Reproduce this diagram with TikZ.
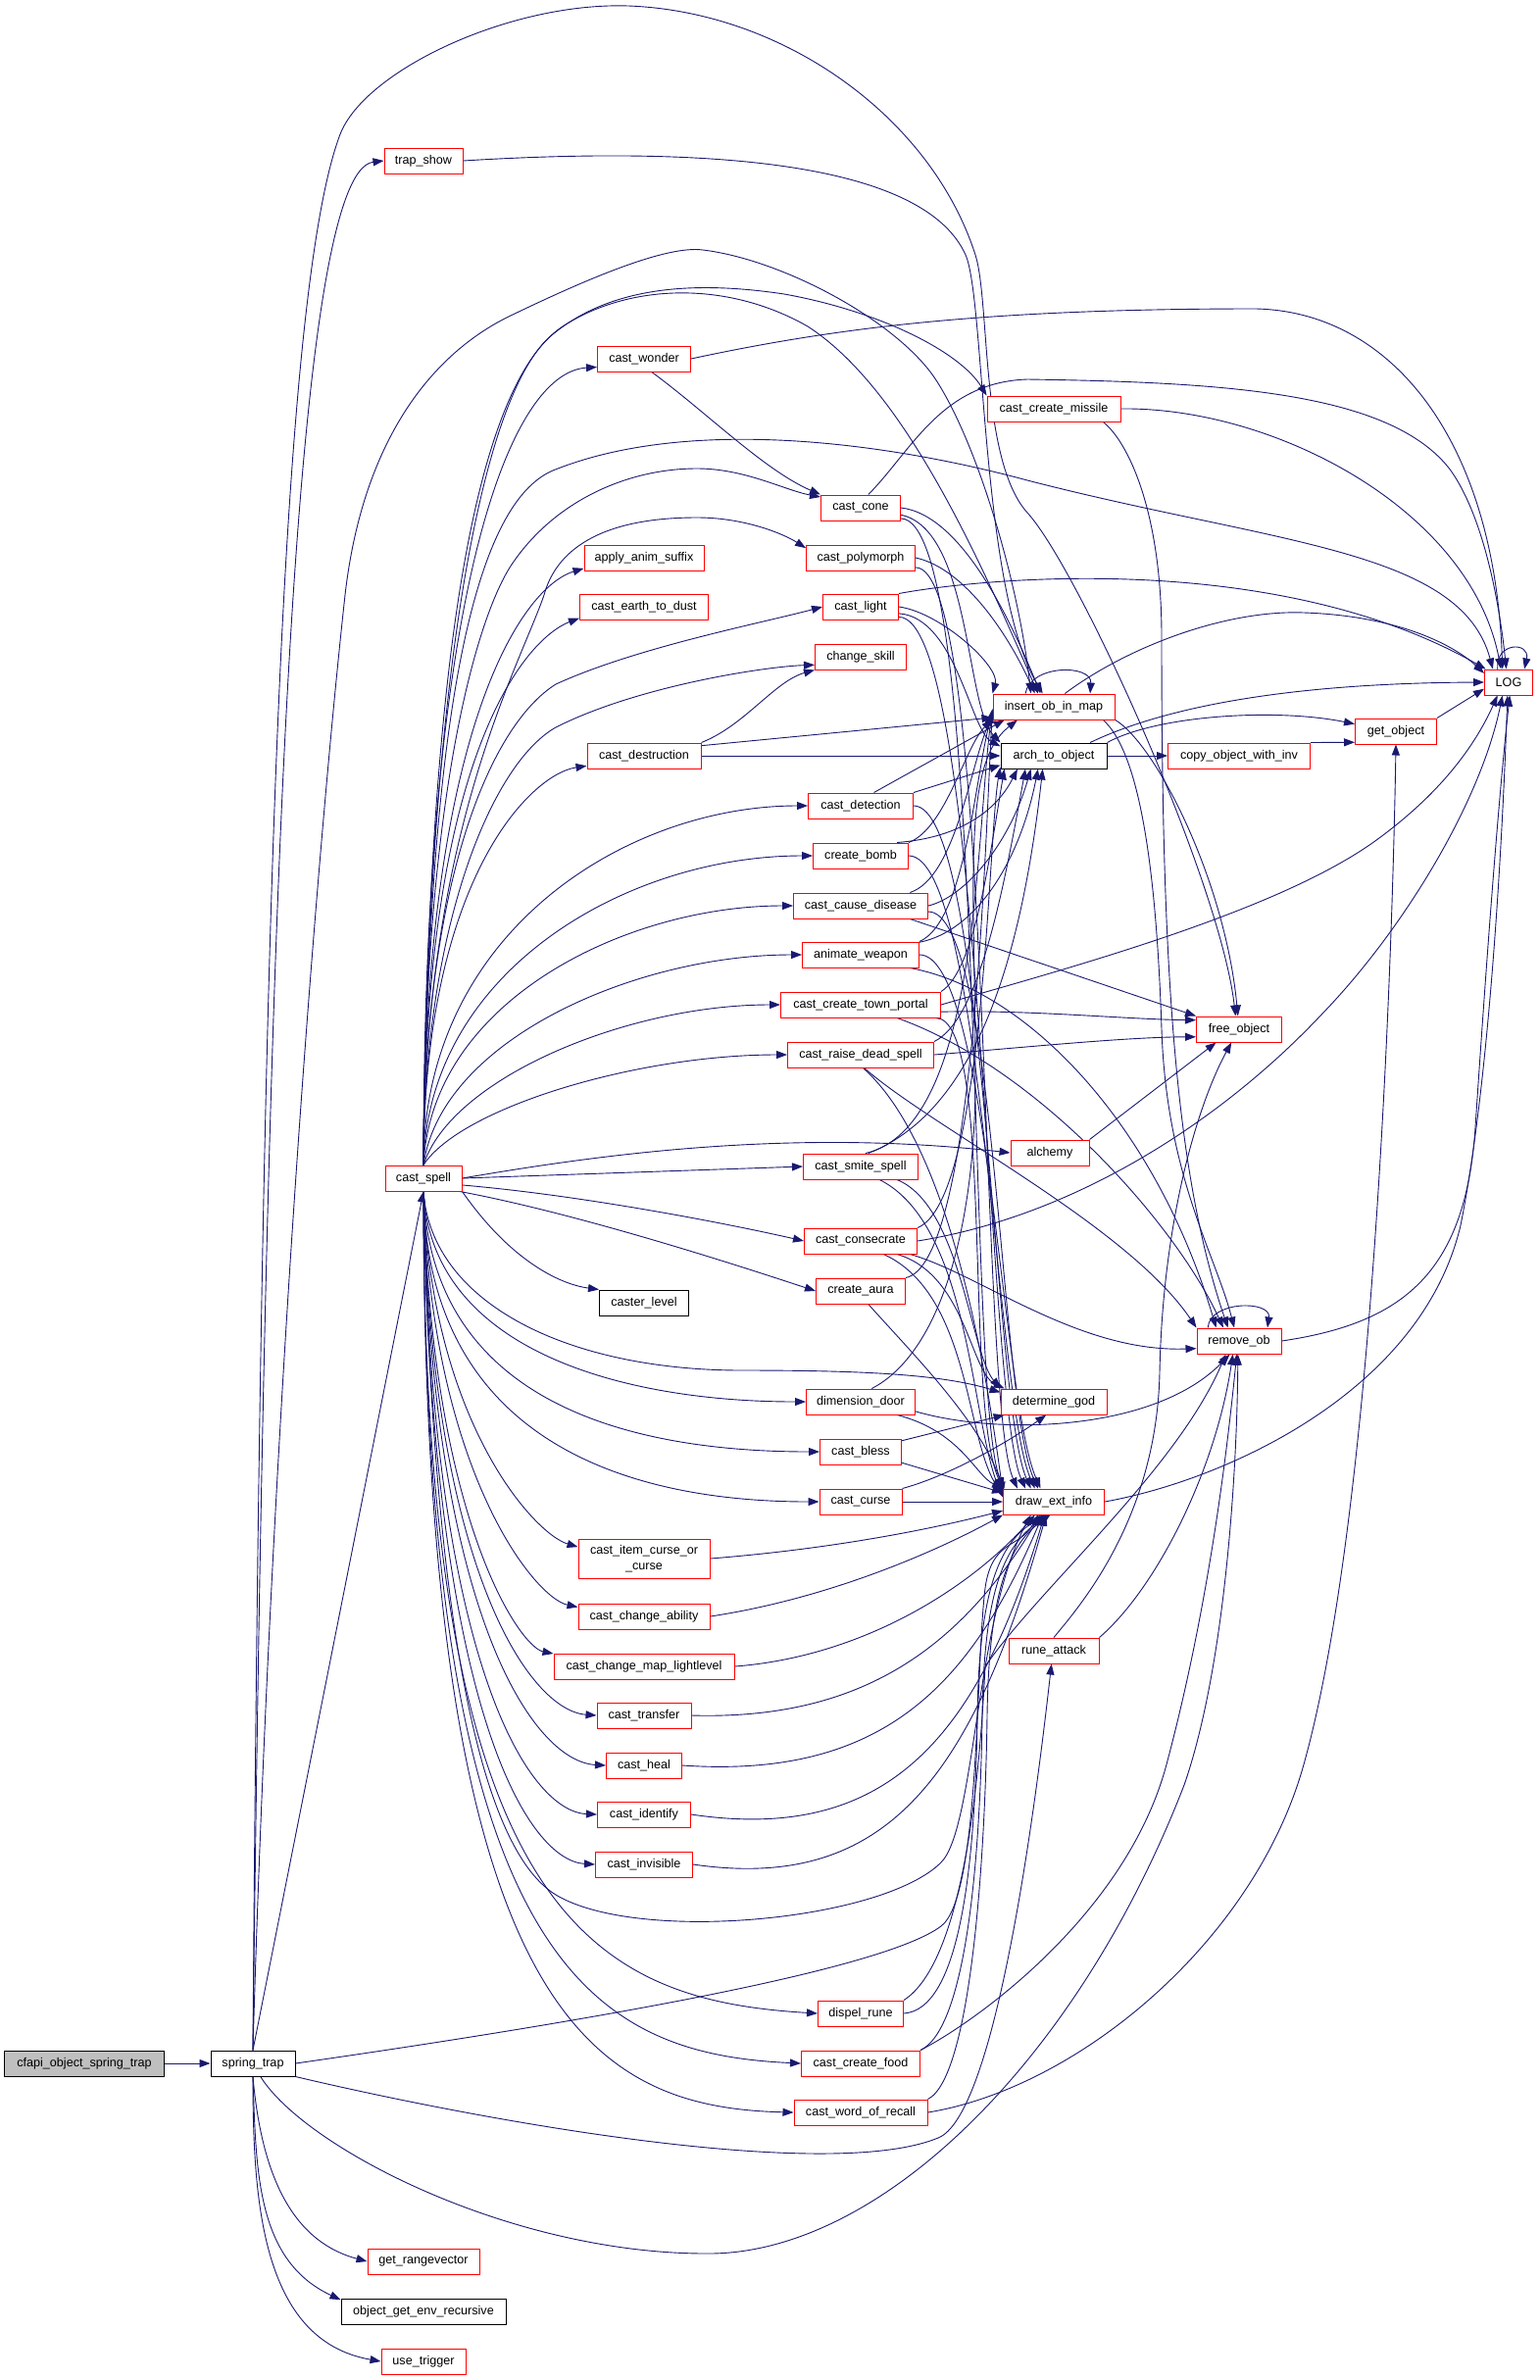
\documentclass[tikz,border=0pt]{standalone}
\usepackage{fontspec}
\newfontfamily\fnfont{Liberation Sans}
\usetikzlibrary{arrows.meta,backgrounds}
\definecolor{edgeblue}{HTML}{191970}
\definecolor{boxred}{HTML}{FF0000}
\definecolor{rootgrey}{HTML}{BFBFBF}
\tikzset{
    callgraph/.style={
        x=1pt, y=1pt,
        % Stile per le funzioni (bordo rosso)
        fn/.style={draw=boxred, fill=white, line width=1pt,
                   minimum width=##1, minimum height=26pt,
                   inner sep=0pt, align=center,
                   font=\fnfont\fontsize{12.6}{15.5}\selectfont},
        % Stile per le funzioni con bordo nero
        fnblack/.style={fn=##1, draw=black},
        % Stile per la funzione di partenza (grigia)
        fnroot/.style={fn=##1, draw=black, fill=rootgrey},
        % Stile per le chiamate
        call/.style={draw=edgeblue, line width=0.9pt,
                     -{Triangle[length=11pt,width=8pt]}},
        % Chiamata che scende verso draw_ext_info
        downto/.style={to path={.. controls +(##1,0) and +(-40,90) .. (\tikztotarget)}}
    }
}

\begin{document}
\begin{tikzpicture}[callgraph]
    \useasboundingbox (0,0) rectangle (1571,-2428);
    % colonna 1 e 2
    \node[fnroot=163pt] (cfapi) at (86,-2105) {cfapi\_object\_spring\_trap};
    \node[fnblack=86pt] (springtrap) at (258,-2105) {spring\_trap};
    \node[fn=114pt] (getrangevector) at (432,-2307) {get\_rangevector};
    \node[fnblack=168pt] (objectgetenv) at (432,-2358) {object\_get\_env\_recursive};
    \node[fn=86pt] (usetrigger) at (432,-2409) {use\_trigger};
    \node[fn=80pt] (trapshow) at (432,-164) {trap\_show};
    \node[fn=78pt] (castspell) at (432,-1202) {cast\_spell};
    % colonna 3
    \node[fn=95pt] (castwonder) at (657,-366) {cast\_wonder};
    \node[fn=122pt] (applyanim) at (657,-569) {apply\_anim\_suffix};
    \node[fn=131pt] (earthtodust) at (657,-619) {cast\_earth\_to\_dust};
    \node[fn=116pt] (destruction) at (657,-771) {cast\_destruction};
    \node[fnblack=91pt] (casterlevel) at (657,-1329) {caster\_level};
    \node[fn=134pt, minimum height=40pt] (itemcurse) at (657,-1590) {cast\_item\_curse\_or\\\_curse};
    \node[fn=134pt] (changeability) at (657,-1649) {cast\_change\_ability};
    \node[fn=184pt] (lightlevel) at (657,-1700) {cast\_change\_map\_lightlevel};
    \node[fn=96pt] (transfer) at (657,-1750) {cast\_transfer};
    \node[fn=77pt] (heal) at (657,-1801) {cast\_heal};
    \node[fn=95pt] (identify) at (657,-1851) {cast\_identify};
    \node[fn=99pt] (invisible) at (657,-1902) {cast\_invisible};
    % colonna 4
    \node[fn=81pt] (castcone) at (878,-518) {cast\_cone};
    \node[fn=111pt] (polymorph) at (878,-569) {cast\_polymorph};
    \node[fn=77pt] (castlight) at (878,-619) {cast\_light};
    \node[fn=93pt] (changeskill) at (878,-670) {change\_skill};
    \node[fn=107pt] (detection) at (878,-822) {cast\_detection};
    \node[fn=97pt] (createbomb) at (878,-873) {create\_bomb};
    \node[fn=137pt] (causedisease) at (878,-924) {cast\_cause\_disease};
    \node[fn=119pt] (animateweapon) at (878,-974) {animate\_weapon};
    \node[fn=163pt] (townportal) at (878,-1025) {cast\_create\_town\_portal};
    \node[fn=149pt] (raisedead) at (878,-1076) {cast\_raise\_dead\_spell};
    \node[fn=117pt] (smite) at (878,-1190) {cast\_smite\_spell};
    \node[fn=115pt] (consecrate) at (878,-1266) {cast\_consecrate};
    \node[fn=91pt] (createaura) at (878,-1317) {create\_aura};
    \node[fn=111pt] (dimensiondoor) at (878,-1430) {dimension\_door};
    \node[fn=83pt] (bless) at (878,-1481) {cast\_bless};
    \node[fn=84pt] (curse) at (878,-1532) {cast\_curse};
    \node[fn=87pt] (dispelrune) at (878,-2054) {dispel\_rune};
    \node[fn=121pt] (createfood) at (878,-2105) {cast\_create\_food};
    \node[fn=136pt] (wordofrecall) at (878,-2155) {cast\_word\_of\_recall};
    % colonna 5
    \node[fn=136pt] (createmissile) at (1075,-417) {cast\_create\_missile};
    \node[fn=124pt] (insertob) at (1075,-721) {insert\_ob\_in\_map};
    \node[fnblack=108pt] (archtoobject) at (1075,-771) {arch\_to\_object};
    \node[fn=80pt] (alchemy) at (1071,-1176) {alchemy};
    \node[fn=108pt] (determinegod) at (1075,-1430) {determine\_god};
    \node[fn=103pt] (drawextinfo) at (1075,-1532) {draw\_ext\_info};
    \node[fn=92pt] (runeattack) at (1075,-1684) {rune\_attack};
    % colonne 6, 7 e 8
    \node[fn=145pt] (copyobject) at (1264,-771) {copy\_object\_with\_inv};
    \node[fn=87pt] (freeobject) at (1264,-1050) {free\_object};
    \node[fn=86pt] (removeob) at (1264,-1368) {remove\_ob};
    \node[fn=83pt] (getobject) at (1424,-746) {get\_object};
    \node[fn=49pt] (logfn) at (1539,-696) {LOG};

    \begin{scope}[on background layer]
    % cfapi_object_spring_trap
    \draw[call] (cfapi) -- (springtrap);
    % spring_trap
    \draw[call] (springtrap.north) .. controls (272,-900) and (300,-175) .. (trapshow.west);
    \draw[call] (springtrap.north) .. controls (266,-1000) and (285,-300) .. (347,-137)
        .. controls (372,-72) and (520,-2) .. (641,-6)
        .. controls (800,-12) and (950,-120) .. (995,-260)
        .. controls (1010,-307) and (1000,-470) .. (1048,-523)
        .. controls (1100,-580) and (1245,-900) .. (freeobject.105);
    \draw[call] (springtrap.north) .. controls (275,-1500) and (320,-900) .. (352,-607)
        .. controls (370,-450) and (440,-360) .. (523,-321)
        .. controls (600,-284) and (680,-250) .. (717,-255)
        .. controls (800,-265) and (920,-330) .. (957,-391)
        .. controls (1000,-460) and (1040,-600) .. (insertob.150);
    \draw[call] (springtrap.north) -- (castspell.south);
    \draw[call] (springtrap.east) .. controls (600,-2062) and (900,-2010) .. (960,-1965)
        .. controls (1000,-1935) and (995,-1700) .. (1005,-1620)
        .. controls (1012,-1570) and (1040,-1580) .. (drawextinfo.-140);
    \draw[call] (springtrap.south east) .. controls (520,-2170) and (850,-2225) .. (957,-2181)
        .. controls (1010,-2160) and (1050,-1900) .. (runeattack.-100);
    \draw[call] (springtrap.-60) .. controls (310,-2190) and (520,-2300) .. (724,-2299)
        .. controls (900,-2298) and (1100,-2100) .. (1208,-1821)
        .. controls (1250,-1700) and (1262,-1500) .. (removeob.-95);
    \draw[call] (springtrap.south) to[out=-85,in=165] (getrangevector.west);
    \draw[call] (springtrap.south) to[out=-88,in=155] (objectgetenv.172);
    \draw[call] (springtrap.south) to[out=-90,in=170] (usetrigger.west);
    % trap_show
    \draw[call] (trapshow.east) .. controls (700,-150) and (940,-160) .. (985,-260)
        .. controls (1005,-305) and (1000,-600) .. (insertob.130);
    % cast_spell, verso l'alto
    \draw[call] (castspell.north) .. controls (432,-600) and (520,-380) .. (castwonder.190);
    \draw[call] (castspell.north) .. controls (432,-750) and (530,-600) .. (applyanim.190);
    \draw[call] (castspell.north) .. controls (432,-760) and (540,-650) .. (earthtodust.190);
    \draw[call] (castspell.north) .. controls (432,-900) and (540,-790) .. (destruction.190);
    \draw[call] (castspell.north) .. controls (432,-800) and (490,-620) .. (524,-573)
        .. controls (567,-511) and (640,-478) .. (711,-478)
        .. controls (760,-478) and (800,-500) .. (castcone.165);
    \draw[call] (castspell.north) .. controls (432,-850) and (530,-680) .. (555,-607)
        .. controls (565,-570) and (600,-528) .. (711,-528)
        .. controls (760,-528) and (800,-545) .. (polymorph.170);
    \draw[call] (castspell.north) .. controls (432,-900) and (500,-740) .. (567,-698)
        .. controls (650,-660) and (780,-635) .. (castlight.west);
    \draw[call] (castspell.north) .. controls (432,-950) and (500,-780) .. (567,-742)
        .. controls (650,-700) and (780,-680) .. (changeskill.190);
    \draw[call] (castspell.north) .. controls (432,-950) and (640,-822) .. (detection.west);
    \draw[call] (castspell.north) .. controls (436,-990) and (640,-873) .. (createbomb.west);
    \draw[call] (castspell.north) .. controls (440,-1020) and (640,-924) .. (causedisease.west);
    \draw[call] (castspell.north) .. controls (450,-1060) and (650,-974) .. (animateweapon.west);
    \draw[call] (castspell.north) .. controls (460,-1100) and (640,-1025) .. (townportal.west);
    \draw[call] (castspell.north) .. controls (470,-1130) and (650,-1076) .. (raisedead.west);
    \draw[call] (castspell.north) .. controls (436,-700) and (490,-400) .. (564,-341)
        .. controls (620,-295) and (700,-285) .. (800,-300)
        .. controls (900,-318) and (980,-360) .. (createmissile.north west);
    \draw[call] (castspell.north) .. controls (436,-700) and (480,-395) .. (574,-333)
        .. controls (640,-290) and (740,-285) .. (824,-333)
        .. controls (920,-395) and (995,-560) .. (insertob.140);
    \draw[call] (castspell.north) .. controls (436,-800) and (470,-520) .. (564,-480)
        .. controls (700,-425) and (900,-450) .. (1048,-490)
        .. controls (1300,-555) and (1490,-560) .. (logfn.140);
    % cast_spell, a destra
    \draw[call] (castspell.east) .. controls (600,-1180) and (800,-1150) .. (alchemy.west);
    \draw[call] (castspell.east) -- (smite.west);
    \draw[call] (castspell.-10) .. controls (600,-1220) and (750,-1250) .. (consecrate.west);
    \draw[call] (castspell.-20) .. controls (600,-1240) and (780,-1300) .. (createaura.west);
    \draw[call] (castspell.south east) .. controls (520,-1285) and (570,-1310) .. (casterlevel.north west);
    % cast_spell, verso il basso
    \draw[call] (castspell.south) .. controls (440,-1330) and (580,-1398) .. (757,-1398)
        .. controls (880,-1398) and (960,-1402) .. (determinegod.170);
    \draw[call] (castspell.south) .. controls (440,-1380) and (640,-1430) .. (dimensiondoor.west);
    \draw[call] (castspell.south) .. controls (440,-1430) and (640,-1481) .. (bless.west);
    \draw[call] (castspell.south) .. controls (436,-1470) and (640,-1532) .. (curse.west);
    \draw[call] (castspell.south) .. controls (440,-1450) and (545,-1565) .. (itemcurse.170);
    \draw[call] (castspell.south) .. controls (440,-1500) and (545,-1630) .. (changeability.172);
    \draw[call] (castspell.south) .. controls (440,-1550) and (530,-1680) .. (lightlevel.172);
    \draw[call] (castspell.south) .. controls (440,-1600) and (540,-1745) .. (transfer.west);
    \draw[call] (castspell.south) .. controls (440,-1650) and (545,-1797) .. (heal.west);
    \draw[call] (castspell.south) .. controls (440,-1700) and (540,-1848) .. (identify.west);
    \draw[call] (castspell.south) .. controls (440,-1750) and (540,-1898) .. (invisible.west);
    \draw[call] (castspell.south) .. controls (432,-1950) and (600,-2040) .. (dispelrune.west);
    \draw[call] (castspell.south) .. controls (432,-2000) and (600,-2095) .. (createfood.west);
    \draw[call] (castspell.south) .. controls (432,-2050) and (600,-2150) .. (wordofrecall.west);
    \draw[call] (castspell.south) .. controls (440,-1600) and (480,-1880) .. (567,-1933)
        .. controls (650,-1983) and (900,-1960) .. (960,-1900)
        .. controls (995,-1865) and (995,-1650) .. (drawextinfo.-150);
    % cast_wonder, cast_destruction
    \draw[call] (castwonder.-60) .. controls (720,-420) and (780,-480) .. (castcone.north west);
    \draw[call] (castwonder.east) .. controls (850,-335) and (1000,-315) .. (1281,-315)
        .. controls (1420,-318) and (1525,-450) .. (logfn.115);
    \draw[call] (destruction.north east) .. controls (760,-740) and (790,-695) .. (changeskill.south west);
    \draw[call] (destruction.10) -- (insertob.-170);
    \draw[call] (destruction.east) -- (archtoobject.west);
    % cast_cone, cast_polymorph, cast_light
    \draw[call] (castcone.60) .. controls (930,-460) and (960,-390) .. (1048,-387)
        .. controls (1250,-390) and (1420,-400) .. (1480,-480)
        .. controls (1515,-530) and (1530,-620) .. (logfn.100);
    \draw[call] (castcone.east) .. controls (980,-525) and (1030,-630) .. (insertob.135);
    \draw[call] (castcone.-10) .. controls (990,-540) and (985,-720) .. (archtoobject.north west);
    \draw[call] (castcone.-15) to[downto=90] (drawextinfo.165);
    \draw[call] (polymorph.east) .. controls (985,-580) and (1030,-650) .. (insertob.145);
    \draw[call] (polymorph.-10) to[downto=80] (drawextinfo.160);
    \draw[call] (castlight.north east) .. controls (1000,-590) and (1300,-560) .. (logfn.150);
    \draw[call] (castlight.east) .. controls (960,-625) and (1020,-680) .. (insertob.north west);
    \draw[call] (castlight.-10) .. controls (975,-630) and (990,-745) .. (archtoobject.170);
    \draw[call] (castlight.-15) to[downto=85] (drawextinfo.155);
    % cast_detection, create_bomb, cast_cause_disease, animate_weapon
    \draw[call] (detection.45) -- (insertob.-165);
    \draw[call] (detection.north east) -- (archtoobject.-170);
    \draw[call] (detection.east) to[downto=75] (drawextinfo.150);
    \draw[call] (createbomb.north east) .. controls (965,-845) and (985,-760) .. (insertob.-168);
    \draw[call] (createbomb.20) .. controls (975,-855) and (1015,-830) .. (archtoobject.-160);
    \draw[call] (createbomb.east) to[downto=75] (drawextinfo.145);
    \draw[call] (causedisease.15) .. controls (975,-895) and (990,-780) .. (insertob.-172);
    \draw[call] (causedisease.east) .. controls (985,-915) and (1030,-860) .. (archtoobject.-150);
    \draw[call] (causedisease.-15) -- (freeobject.north west);
    \draw[call] (causedisease.-5) to[downto=70] (drawextinfo.140);
    \draw[call] (animateweapon.north east) .. controls (985,-940) and (995,-790) .. (insertob.-175);
    \draw[call] (animateweapon.12) .. controls (995,-950) and (1040,-880) .. (archtoobject.-140);
    \draw[call] (animateweapon.-15) .. controls (1050,-1010) and (1180,-1150) .. (removeob.150);
    \draw[call] (animateweapon.east) to[downto=70] (drawextinfo.135);
    % cast_create_town_portal, cast_raise_dead_spell, alchemy
    \draw[call] (townportal.east) .. controls (1100,-985) and (1300,-930) .. (1400,-860)
        .. controls (1470,-810) and (1505,-760) .. (logfn.-130);
    \draw[call] (townportal.-5) .. controls (1050,-1030) and (1150,-1040) .. (freeobject.168);
    \draw[call] (townportal.north east) .. controls (995,-990) and (1010,-870) .. (archtoobject.-165);
    \draw[call] (townportal.-20) .. controls (1060,-1090) and (1200,-1250) .. (removeob.140);
    \draw[call] (townportal.-10) to[downto=60] (drawextinfo.north west);
    \draw[call] (raisedead.east) .. controls (1050,-1068) and (1150,-1058) .. (freeobject.-170);
    \draw[call] (raisedead.north east) .. controls (1000,-1040) and (1025,-900) .. (archtoobject.-155);
    \draw[call] (raisedead.-75) .. controls (950,-1150) and (1150,-1250) .. (removeob.north west);
    \draw[call] (raisedead.-80) .. controls (960,-1160) and (1000,-1350) .. (drawextinfo.170);
    \draw[call] (alchemy.north east) -- (freeobject.-150);
    % cast_smite_spell, cast_consecrate, create_aura, dimension_door
    \draw[call] (smite.70) .. controls (1000,-1150) and (995,-850) .. (insertob.-178);
    \draw[call] (smite.60) .. controls (1005,-1130) and (1045,-950) .. (archtoobject.-130);
    \draw[call] (smite.-20) .. controls (980,-1230) and (990,-1380) .. (determinegod.north west);
    \draw[call] (smite.-35) .. controls (990,-1250) and (990,-1450) .. (drawextinfo.175);
    \draw[call] (consecrate.east) .. controls (1100,-1240) and (1250,-1140) .. (1350,-1033)
        .. controls (1430,-950) and (1510,-820) .. (logfn.-115);
    \draw[call] (consecrate.north east) .. controls (1005,-1225) and (1008,-850) .. (archtoobject.-168);
    \draw[call] (consecrate.-20) .. controls (985,-1300) and (990,-1400) .. (determinegod.165);
    \draw[call] (consecrate.-30) .. controls (990,-1320) and (985,-1470) .. (drawextinfo.172);
    \draw[call] (consecrate.-15) .. controls (1000,-1300) and (1100,-1380) .. (removeob.-170);
    \draw[call] (createaura.north east) .. controls (995,-1290) and (1005,-850) .. (insertob.-177);
    \draw[call] (createaura.-60) .. controls (930,-1380) and (1000,-1450) .. (drawextinfo.north west);
    \draw[call] (dimensiondoor.50) .. controls (960,-1380) and (995,-1250) .. (995,-1100)
        .. controls (995,-900) and (980,-780) .. (insertob.-160);
    \draw[call] (dimensiondoor.-10) .. controls (1020,-1465) and (1180,-1460) .. (removeob.-125);
    \draw[call] (dimensiondoor.-20) .. controls (980,-1460) and (995,-1505) .. (drawextinfo.north west);
    % cast_bless, cast_curse
    \draw[call] (bless.15) -- (determinegod.-165);
    \draw[call] (bless.-15) -- (drawextinfo.170);
    \draw[call] (curse) -- (drawextinfo);
    \draw[call] (curse.north east) .. controls (970,-1505) and (1030,-1470) .. (determinegod.-120);
    % incantesimi che scrivono soltanto
    \draw[call] (itemcurse.east) .. controls (850,-1580) and (950,-1560) .. (drawextinfo.-170);
    \draw[call] (changeability.east) .. controls (850,-1630) and (960,-1580) .. (drawextinfo.south west);
    \draw[call] (lightlevel.east) .. controls (880,-1690) and (990,-1620) .. (drawextinfo.-145);
    \draw[call] (transfer.east) .. controls (880,-1755) and (980,-1680) .. (drawextinfo.-135);
    \draw[call] (heal.east) .. controls (900,-1815) and (990,-1720) .. (drawextinfo.-130);
    \draw[call] (identify.east) .. controls (900,-1880) and (995,-1780) .. (drawextinfo.-125);
    \draw[call] (invisible.east) .. controls (900,-1930) and (990,-1820) .. (drawextinfo.-120);
    % dispel_rune, cast_create_food, cast_word_of_recall
    \draw[call] (dispelrune.east) .. controls (980,-2050) and (995,-1900) .. (997,-1750)
        .. controls (999,-1620) and (1020,-1570) .. (drawextinfo.-115);
    \draw[call] (dispelrune.north east) .. controls (985,-2000) and (1000,-1800) .. (1005,-1700)
        .. controls (1060,-1620) and (1200,-1500) .. (removeob.-135);
    \draw[call] (createfood.north east) .. controls (985,-2070) and (1000,-1900) .. (1002,-1750)
        .. controls (1004,-1620) and (1025,-1575) .. (drawextinfo.-110);
    \draw[call] (createfood.north east) .. controls (1000,-2060) and (1150,-1950) .. (1190,-1800)
        .. controls (1230,-1650) and (1250,-1500) .. (removeob.-100);
    \draw[call] (wordofrecall.north east) .. controls (990,-2120) and (1005,-1900) .. (1007,-1750)
        .. controls (1009,-1620) and (1030,-1575) .. (drawextinfo.-105);
    \draw[call] (wordofrecall.east) .. controls (1100,-2130) and (1280,-1980) .. (1330,-1800)
        .. controls (1400,-1550) and (1420,-1000) .. (getobject.south);
    % rune_attack, draw_ext_info, remove_ob
    \draw[call] (runeattack.north) .. controls (1100,-1640) and (1180,-1550) .. (1183,-1400)
        .. controls (1186,-1250) and (1220,-1130) .. (freeobject.-120);
    \draw[call] (runeattack.north east) .. controls (1180,-1620) and (1240,-1500) .. (removeob.-115);
    \draw[call] (drawextinfo.east) .. controls (1250,-1510) and (1450,-1420) .. (1490,-1250)
        .. controls (1520,-1100) and (1533,-850) .. (logfn.-95);
    \draw[call] (removeob.157) .. controls +(2,28) and +(4,28) .. (removeob.25);
    \draw[call] (removeob.east) .. controls (1430,-1350) and (1495,-1300) .. (1505,-1150)
        .. controls (1515,-1000) and (1528,-820) .. (logfn.-85);
    % cast_create_missile, insert_ob_in_map, arch_to_object
    \draw[call] (createmissile.east) .. controls (1300,-415) and (1500,-520) .. (logfn.120);
    \draw[call] (createmissile.-15) .. controls (1150,-450) and (1185,-520) .. (1185,-650)
        .. controls (1185,-1000) and (1200,-1200) .. (removeob.130);
    \draw[call] (insertob.155) .. controls +(5,30) and +(2,30) .. (insertob.20);
    \draw[call] (insertob.50) .. controls (1150,-660) and (1250,-622) .. (1330,-625)
        .. controls (1420,-628) and (1480,-655) .. (logfn.160);
    \draw[call] (insertob.-12) .. controls (1180,-760) and (1250,-900) .. (freeobject.95);
    \draw[call] (insertob.-15) .. controls (1165,-770) and (1180,-900) .. (1185,-1050)
        .. controls (1190,-1200) and (1240,-1280) .. (removeob.110);
    \draw[call] (archtoobject.20) .. controls (1180,-725) and (1300,-697) .. (logfn.west);
    \draw[call] (archtoobject.north east) .. controls (1180,-730) and (1300,-722) .. (getobject.170);
    \draw[call] (archtoobject) -- (copyobject);
    % copy_object_with_inv, get_object, LOG
    \draw[call] (copyobject.north east) -- (getobject.-165);
    \draw[call] (getobject.north east) -- (logfn.-165);
    \draw[call] (logfn.130) .. controls +(-2,28) and +(6,28) .. (logfn.40);
    \end{scope}
\end{tikzpicture}
\end{document}
